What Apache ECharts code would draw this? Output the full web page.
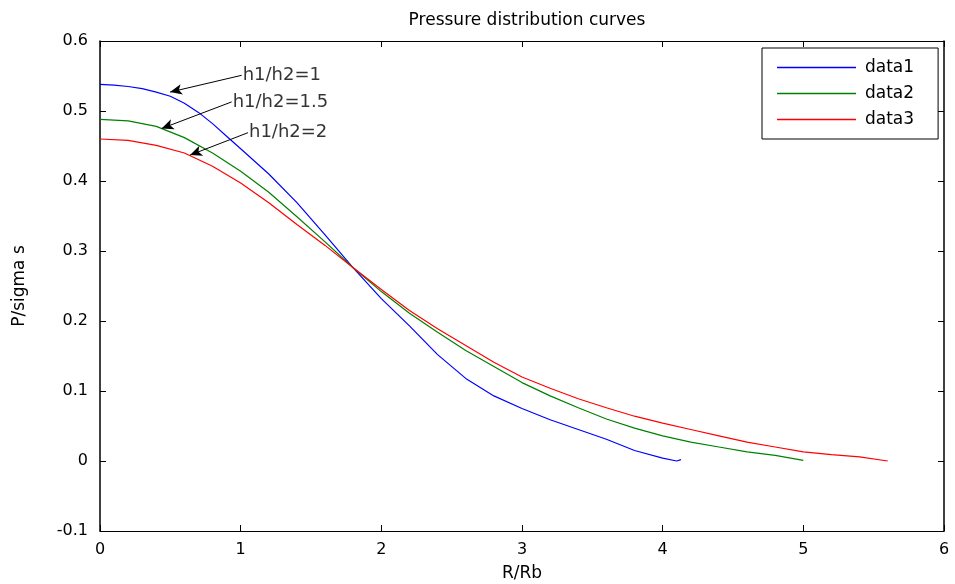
<!DOCTYPE html>
<html>
<head>
<meta charset="utf-8">
<script src="https://cdn.jsdelivr.net/npm/echarts@6/dist/echarts.min.js"></script>
<style>html,body{margin:0;padding:0;background:#fff}#c{width:955px;height:584px}</style>
</head>
<body>
<div id="c"></div>
<script>
var seriesNames = ['data1', 'data2', 'data3'];
var xTicks = [0, 1, 2, 3, 4, 5, 6];
var yTicks = [-0.1, 0, 0.1, 0.2, 0.3, 0.4, 0.5, 0.6];

var x1 = [0, 0.1, 0.2, 0.3, 0.4, 0.5, 0.6, 0.7, 0.8, 0.9, 1.0, 1.2, 1.4, 1.6, 1.8, 2.0, 2.2, 2.4, 2.6, 2.8, 3.0, 3.2, 3.4, 3.6, 3.8, 4.0, 4.1, 4.13];
var y1 = [0.538, 0.537, 0.535, 0.532, 0.527, 0.521, 0.511, 0.498, 0.482, 0.464, 0.446, 0.410, 0.369, 0.323, 0.276, 0.232, 0.193, 0.152, 0.118, 0.093, 0.075, 0.059, 0.045, 0.031, 0.015, 0.004, 0.0, 0.002];

var x2 = [0, 0.2, 0.4, 0.6, 0.8, 1.0, 1.2, 1.4, 1.6, 1.8, 2.0, 2.2, 2.4, 2.6, 2.8, 3.0, 3.2, 3.4, 3.6, 3.8, 4.0, 4.2, 4.4, 4.6, 4.8, 5.0];
var y2 = [0.488, 0.486, 0.478, 0.462, 0.440, 0.414, 0.384, 0.349, 0.313, 0.276, 0.242, 0.211, 0.184, 0.158, 0.135, 0.112, 0.093, 0.076, 0.060, 0.047, 0.036, 0.027, 0.020, 0.013, 0.008, 0.001];

var x3 = [0, 0.2, 0.4, 0.6, 0.8, 1.0, 1.2, 1.4, 1.6, 1.8, 2.0, 2.2, 2.4, 2.6, 2.8, 3.0, 3.2, 3.4, 3.6, 3.8, 4.0, 4.2, 4.4, 4.6, 4.8, 5.0, 5.2, 5.4, 5.6];
var y3 = [0.460, 0.458, 0.451, 0.440, 0.421, 0.397, 0.369, 0.338, 0.308, 0.276, 0.245, 0.215, 0.189, 0.165, 0.141, 0.120, 0.104, 0.089, 0.076, 0.064, 0.054, 0.045, 0.036, 0.027, 0.020, 0.013, 0.009, 0.006, 0.0];

var annoText = ['h1/h2=1', 'h1/h2=1.5', 'h1/h2=2'];
var arrowTailX = [1.007, 0.936, 1.052];
var arrowTailY = [0.551, 0.513, 0.469];
var arrowHeadX = [0.498, 0.438, 0.640];
var arrowHeadY = [0.527, 0.475, 0.437];

function pairs(xs, ys) { return xs.map(function (x, i) { return [x, ys[i]]; }); }

var font = 'DejaVu Sans, Liberation Sans, Arial, sans-serif';
var colors = ['#0000ff', '#008000', '#ff0000'];
var xs = [x1, x2, x3], ys = [y1, y2, y3];

var series = seriesNames.map(function (n, i) {
  return {
    name: n, type: 'line', data: pairs(xs[i], ys[i]), symbol: 'none', smooth: false,
    lineStyle: { color: colors[i], width: 1.2 }, itemStyle: { color: colors[i] },
    xAxisIndex: 0, yAxisIndex: 0, animation: false, z: 3
  };
});

series.push({
  name: 'annotations', type: 'scatter', symbolSize: 0, animation: false, silent: true,
  data: annoText.map(function (t, i) { return { value: [arrowTailX[i], arrowTailY[i]], name: t }; }),
  label: { show: true, position: 'right', distance: 1, formatter: '{b}', color: '#000', fontFamily: font, fontSize: 18 },
  markLine: {
    silent: true, animation: false, symbol: ['none', 'arrow'], symbolSize: [8, 12],
    lineStyle: { color: '#000', width: 1, type: 'solid' },
    label: { show: false },
    data: annoText.map(function (t, i) {
      return [{ coord: [arrowTailX[i], arrowTailY[i]] }, { coord: [arrowHeadX[i], arrowHeadY[i]] }];
    })
  },
  z: 5
});

var chart = echarts.init(document.getElementById('c'));
chart.setOption({
  backgroundColor: '#fff',
  animation: false,
  title: {
    text: 'Pressure distribution curves', left: 522, textAlign: 'center', top: 7,
    textStyle: { fontFamily: font, fontSize: 17, fontWeight: 'normal', color: '#000' }
  },
  legend: {
    data: seriesNames, orient: 'vertical', left: 762, top: 48,
    icon: 'rect', itemWidth: 79, itemHeight: 1.5, itemGap: 9,
    padding: [11, 24, 11, 15],
    borderColor: '#000', borderWidth: 1, backgroundColor: '#fff',
    textStyle: { fontFamily: font, fontSize: 17, color: '#000', padding: [0, 0, 0, 4] }
  },
  grid: { left: 100, right: 11, top: 41, bottom: 53, containLabel: false, outerBoundsMode: 'none' },
  xAxis: [{
    type: 'value', min: xTicks[0], max: xTicks[xTicks.length - 1], interval: 1,
    name: 'R/Rb', nameLocation: 'middle', nameGap: 34,
    nameTextStyle: { fontFamily: font, fontSize: 17, color: '#000' },
    axisLine: { show: true, onZero: false, lineStyle: { color: '#000', width: 1 } },
    axisTick: { inside: true, length: 6, lineStyle: { color: '#000' } },
    axisLabel: { fontFamily: font, fontSize: 16, color: '#000', margin: 11 },
    splitLine: { show: false }
  }, {
    type: 'value', position: 'top', min: xTicks[0], max: xTicks[xTicks.length - 1], interval: 1,
    axisLine: { show: true, onZero: false, lineStyle: { color: '#000', width: 1 } },
    axisTick: { inside: true, length: 6, lineStyle: { color: '#000' } },
    axisLabel: { show: false }, splitLine: { show: false }
  }],
  yAxis: [{
    type: 'value', min: yTicks[0], max: yTicks[yTicks.length - 1], interval: 0.1,
    name: 'P/sigma s', nameLocation: 'middle', nameGap: 72,
    nameTextStyle: { fontFamily: font, fontSize: 17, color: '#000' },
    axisLine: { show: true, onZero: false, lineStyle: { color: '#000', width: 1.5 } },
    axisTick: { show: true, inside: true, length: 6, lineStyle: { color: '#000' } },
    axisLabel: { fontFamily: font, fontSize: 16, color: '#000', margin: 12,
      formatter: function (v) { return String(+v.toFixed(1)); } },
    splitLine: { show: false }
  }, {
    type: 'value', position: 'right', min: yTicks[0], max: yTicks[yTicks.length - 1], interval: 0.1,
    axisLine: { show: true, onZero: false, lineStyle: { color: '#000', width: 1.5 } },
    axisTick: { show: true, inside: true, length: 6, lineStyle: { color: '#000' } },
    axisLabel: { show: false }, splitLine: { show: false }
  }],
  series: series
});
</script>
</body>
</html>
